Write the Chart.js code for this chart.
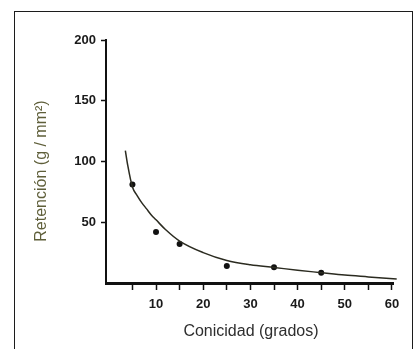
<!DOCTYPE html>
<html>
<head>
<meta charset="utf-8">
<script src="https://cdn.jsdelivr.net/npm/chart.js@4.4.1/dist/chart.umd.min.js"></script>
<style>
  html, body { margin: 0; padding: 0; background: #fff; }
  #wrap { position: relative; width: 417px; height: 349px; overflow: hidden; }
  #frame { position: absolute; left: 14px; top: 11px; width: 399px; height: 345px;
           border: 1.5px solid #1c1c1c; box-sizing: border-box; pointer-events: none; }
</style>
</head>
<body>
<div id="wrap">
  <canvas id="chart" width="417" height="349"></canvas>
  <div id="frame"></div>
</div>
<script>
// medidas (puntos)
const pointX = [5, 10, 15, 25, 35, 45];
const pointY = [81, 42, 32, 14, 13, 8.5];
// curva ajustada
const curveX = [3.5, 4, 5, 6, 7, 8, 9, 10, 12, 15, 20, 25, 30, 35, 40, 45, 50, 55, 61];
const curveY = [109, 97, 79, 72, 66, 61, 56, 52, 44, 34.5, 25, 18.5, 15, 12.8, 10.5, 8.5, 6.5, 5, 3.2];
// ticks
const xTicks = [5, 10, 15, 20, 25, 30, 35, 40, 45, 50, 55, 60];
const yTicks = [50, 100, 150, 200];

const xTitle = 'Conicidad (grados)';
const yTitle = 'Retención (g / mm²)';

const axisTitles = {
    id: 'axisTitles',
    afterDraw(chart) {
        const {ctx, chartArea} = chart;
        ctx.save();
        ctx.font = '16px "Liberation Sans", Arial, sans-serif';
        ctx.textAlign = 'center';
        ctx.textBaseline = 'middle';
        ctx.fillStyle = '#2e2e2e';
        ctx.fillText(xTitle, chartArea.left + 145, chartArea.bottom + 49);
        ctx.translate(chartArea.left - 64, chartArea.top + 131);
        ctx.rotate(-Math.PI / 2);
        ctx.fillStyle = '#5f5f3a';
        ctx.fillText(yTitle, 0, 0);
        ctx.restore();
    }
};

const tickFont = {family: '"Liberation Sans", Arial, sans-serif', size: 13, weight: 'bold'};

new Chart(document.getElementById('chart').getContext('2d'), {
    type: 'scatter',
    data: {
        datasets: [{
            label: 'curva',
            data: curveX.map((x, i) => ({x: x, y: curveY[i]})),
            showLine: true,
            borderColor: '#2b2b20',
            borderWidth: 1.5,
            pointRadius: 0,
            cubicInterpolationMode: 'monotone',
            clip: false
        }, {
            label: 'medidas',
            data: pointX.map((x, i) => ({x: x, y: pointY[i]})),
            showLine: false,
            pointRadius: 3,
            pointBackgroundColor: '#111',
            pointBorderColor: '#111',
            borderWidth: 0
        }]
    },
    options: {
        responsive: false,
        animation: false,
        events: [],
        layout: {padding: {top: 40, right: 23.6, bottom: 0, left: 0}},
        plugins: {
            legend: {display: false},
            tooltip: {enabled: false}
        },
        scales: {
            x: {
                type: 'linear',
                min: -0.6,
                max: 60.3,
                afterFit: s => { s.height = 66; },
                afterBuildTicks: s => { s.ticks = xTicks.map(v => ({value: v})); },
                border: {display: true, width: 3, color: '#111'},
                grid: {drawOnChartArea: false, drawTicks: true, tickLength: 7, tickWidth: 1.5, color: '#111'},
                ticks: {
                    font: tickFont,
                    color: '#1a1a1a',
                    padding: 7,
                    maxRotation: 0,
                    autoSkip: false,
                    callback: v => (v % 10 === 0 ? String(v) : '')
                }
            },
            y: {
                min: 0,
                max: 200,
                afterFit: s => { s.width = 106; },
                afterBuildTicks: s => { s.ticks = yTicks.map(v => ({value: v})); },
                border: {display: true, width: 2, color: '#111'},
                grid: {drawOnChartArea: false, drawTicks: true, tickLength: 5, tickWidth: 1.5, color: '#111'},
                ticks: {
                    font: tickFont,
                    color: '#1a1a1a',
                    padding: 5
                }
            }
        }
    },
    plugins: [axisTitles]
});
</script>
</body>
</html>
